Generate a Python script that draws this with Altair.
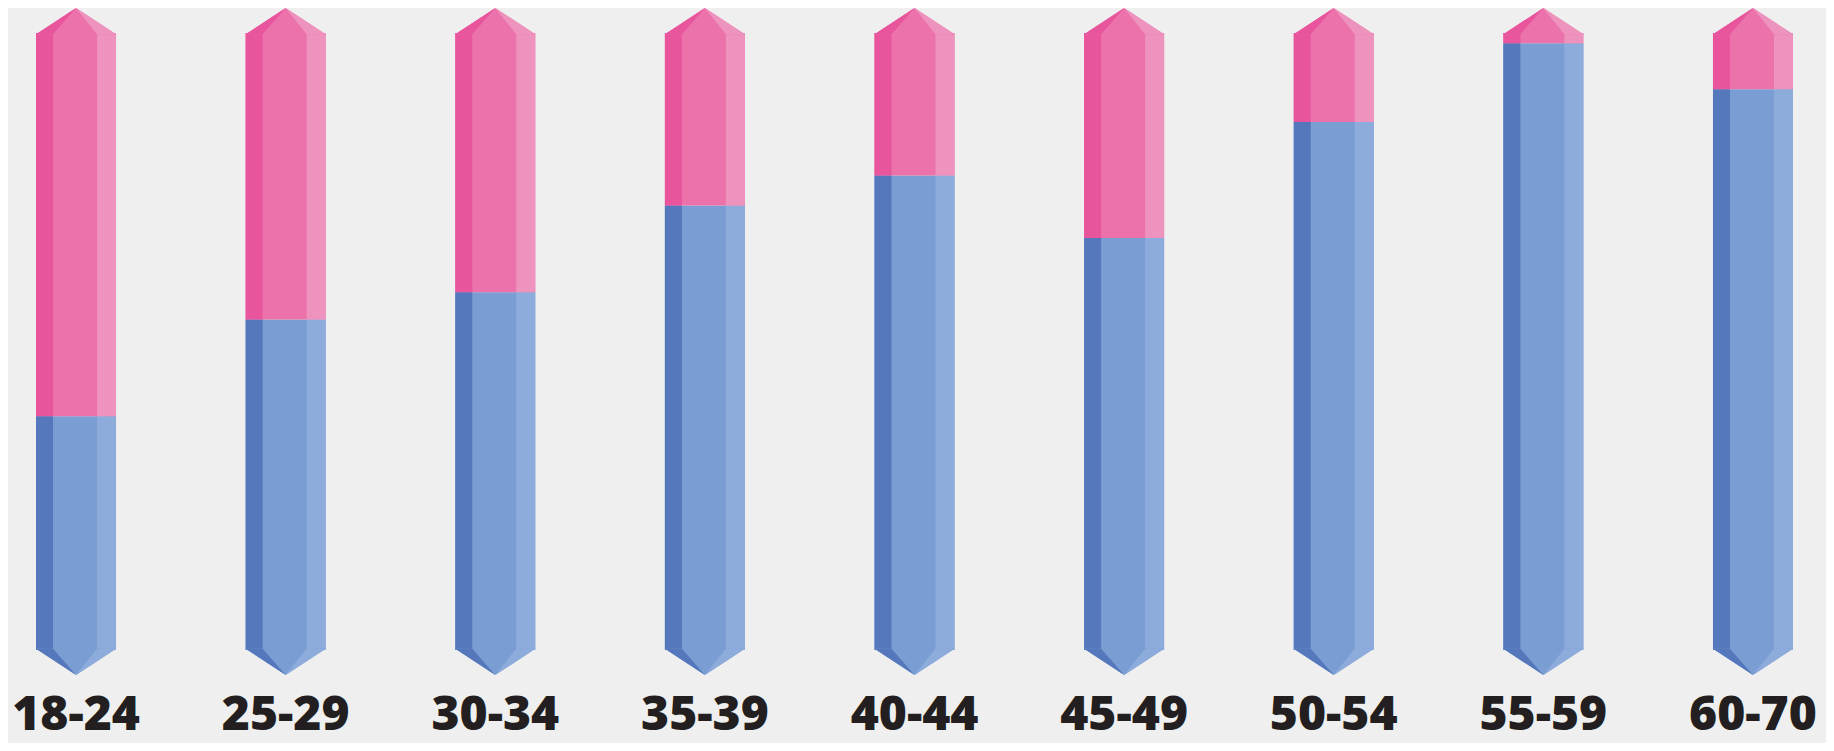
import altair as alt
import pandas as pd

# ---- data ----
ages = ["18-24", "25-29", "30-34", "35-39", "40-44", "45-49", "50-54", "55-59", "60-70"]
blue_share = [38.8, 53.3, 57.4, 70.4, 74.9, 65.5, 82.9, 94.7, 87.8]  # % of column height (blue, bottom)

# ---- style ----
PLOT_W = 1813
PLOT_H = 667
BAR_W = 80
TIP_PX = 25
BLUE = {"mid": "#7a9dd3", "left": "#5578bc", "right": "#8dacdc"}
PINK = {"mid": "#eb72aa", "left": "#e9559d", "right": "#ee93be"}

tip = TIP_PX / PLOT_H * 100  # tip height in y-units

rows = []
for a, b in zip(ages, blue_share):
    rows.append({"age": a, "seg": "blue", "y0": tip, "y1": b})
    rows.append({"age": a, "seg": "pink", "y0": b, "y1": 100 - tip})
body = pd.DataFrame(rows)

tips = pd.DataFrame(
    [{"age": a, "end": e, "pos": (tip / 2 if e == "bottom" else 100 - tip / 2)}
     for a in ages for e in ["bottom", "top"]]
)

h = TIP_PX / BAR_W  # half-height of tip in symbol units (symbol half-width = 1)
ov = h + 0.03
TOP = {
    "mid": f"M-1,{ov}L1,{ov}L0,{-h}Z",
    "left": f"M-1,{ov}L-0.575,{ov}L0,{-h}Z",
    "right": f"M0.525,{ov}L1,{ov}L0,{-h}Z",
}
BOT = {
    "mid": f"M-1,{-ov}L1,{-ov}L0,{h}Z",
    "left": f"M-1,{-ov}L-0.575,{-ov}L0,{h}Z",
    "right": f"M0.525,{-ov}L1,{-ov}L0,{h}Z",
}

x_enc = alt.X(
    "age:N",
    sort=ages,
    scale=alt.Scale(paddingInner=0.351, paddingOuter=0),
    axis=alt.Axis(
        title=None,
        labelAngle=0,
        domain=False,
        ticks=False,
        tickSize=0,
        grid=False,
        labelFont="Open Sans",
        labelFontWeight=800,
        labelFontSize=48,
        labelColor="#231f20",
        labelBaseline="alphabetic",
        labelPadding=54,
    ),
)
y_scale = alt.Scale(domain=[0, 100], nice=False, zero=False)

layers = []
for facet, w, off in [("mid", BAR_W, 0), ("left", 17, -31.5), ("right", 19, 30.5)]:
    layers.append(
        alt.Chart(body)
        .mark_bar(width=w, xOffset=off, strokeWidth=0)
        .encode(
            x=x_enc,
            y=alt.Y("y0:Q", scale=y_scale, axis=None),
            y2="y1:Q",
            color=alt.Color(
                "seg:N",
                scale=alt.Scale(domain=["blue", "pink"], range=[BLUE[facet], PINK[facet]]),
                legend=None,
            ),
        )
    )

for facet in ["mid", "left", "right"]:
    layers.append(
        alt.Chart(tips)
        .mark_point(filled=True, opacity=1, strokeWidth=0, size=BAR_W * BAR_W)
        .encode(
            x=x_enc,
            y=alt.Y("pos:Q", scale=y_scale, axis=None),
            shape=alt.Shape(
                "end:N",
                scale=alt.Scale(domain=["bottom", "top"], range=[BOT[facet], TOP[facet]]),
                legend=None,
            ),
            color=alt.Color(
                "end:N",
                scale=alt.Scale(domain=["bottom", "top"], range=[BLUE[facet], PINK[facet]]),
                legend=None,
            ),
        )
    )

chart = (
    alt.layer(*layers)
    .resolve_scale(color="independent", shape="independent")
    .properties(
        width=PLOT_W,
        height=PLOT_H,
        background="#efefef",
        padding={"left": 0, "top": 0, "right": 5, "bottom": 68},
        autosize=alt.AutoSizeParams(type="none"),
    )
    .configure_view(stroke=None)
)

chart.save("out.html", embed_options={"renderer": "svg", "actions": False})
